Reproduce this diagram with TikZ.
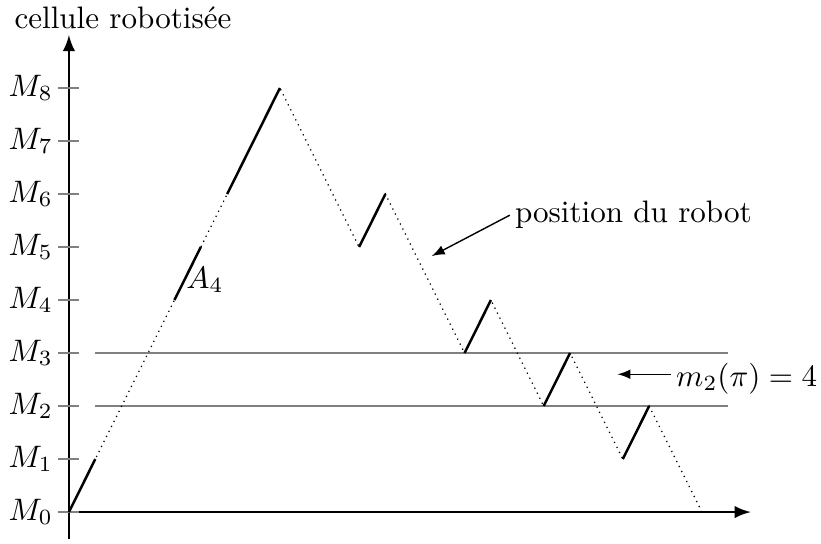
\documentclass[tikz,border=0pt]{standalone}
\usetikzlibrary{arrows}
\begin{document}
\begin{tikzpicture}[x=8.494pt,y=17.07pt,
  axis/.style={thick,-latex},
  tick/.style={gray,line width=0.5pt},
  level/.style={gray,line width=0.5pt},
  move/.style={dash pattern=on 0.4pt off 1.4pt,line width=0.4pt},
  work/.style={thick},
  note/.style={-latex,line width=0.45pt},
  notetext/.style={inner sep=1.5pt}]
\useasboundingbox (-22.2pt,-10pt) rectangle (242.2pt,164.9pt);
% axes
\coordinate (xs) at (-3.5pt,0);
\coordinate (xe) at (25.85,0);
\coordinate (ys) at (0,-0.5);
\coordinate (ye) at (0,9);
\draw[axis] (xs) -- (xe);
\draw[axis] (ys) -- (ye);
\node (title) at (2.05,9.32) {cellule robotisée};
% ticks and labels
\foreach \i in {0,...,8}{
  \draw[tick] (-3.5pt,\i) -- (3.3pt,\i);
  \node[anchor=east,inner sep=1.5pt] (m\i) at (-3.5pt,\i) {$M_{\i}$};
}
% level lines
\coordinate (l2a) at (1,2); \coordinate (l2b) at (25,2);
\coordinate (l3a) at (1,3); \coordinate (l3b) at (25,3);
\draw[level] (l2a) -- (l2b);
\draw[level] (l3a) -- (l3b);
% path points
\coordinate (p0) at (0,0);
\coordinate (p1) at (8,8);
\coordinate (p2) at (11,5);
\coordinate (p3) at (12,6);
\coordinate (p4) at (15,3);
\coordinate (p5) at (16,4);
\coordinate (p6) at (18,2);
\coordinate (p7) at (19,3);
\coordinate (p8) at (21,1);
\coordinate (p9) at (22,2);
\coordinate (p10) at (24,0);
\coordinate (q1) at (1,1);
\coordinate (q4) at (4,4);
\coordinate (q5) at (5,5);
\coordinate (q6) at (6,6);
\draw[move] (p0) -- (p1) -- (p2) -- (p3) -- (p4) -- (p5) -- (p6) -- (p7) -- (p8) -- (p9) -- (p10);
\draw[work] (p0) -- (q1);
\draw[work] (q4) -- (q5);
\draw[work] (q6) -- (p1);
\draw[work] (p2) -- (p3);
\draw[work] (p4) -- (p5);
\draw[work] (p6) -- (p7);
\draw[work] (p8) -- (p9);
\node (a4) at (5.16,4.38) {$A_4$};
% annotations
\node[notetext] (pos) at (21.4,5.6) {position du robot};
\coordinate (postip) at (13.76,4.83);
\draw[note] (pos.west) -- (postip);
\node[notetext] (mpi) at (25.7,2.52) {$m_2(\pi)=4$};
\coordinate (mtip) at (20.8,2.6);
\draw[note] (mpi.west |- mtip) -- (mtip);
\end{tikzpicture}
\end{document}
